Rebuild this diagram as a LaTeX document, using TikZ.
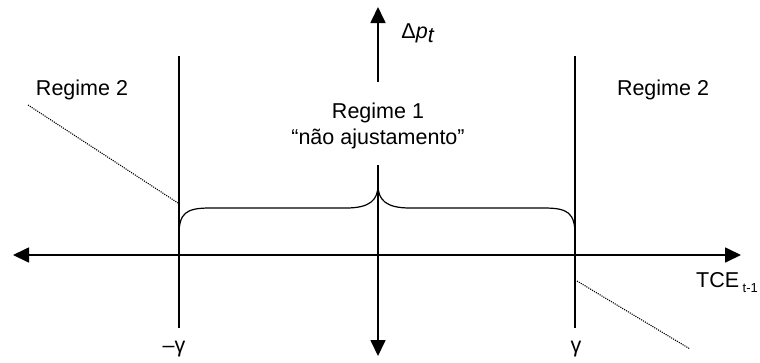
\documentclass[tikz,border=0pt]{standalone}
\usepackage{fontspec}
\setmainfont{Liberation Sans}
\usetikzlibrary{arrows.meta}

\begin{document}
\begin{tikzpicture}[x=1pt, y=-1pt,
        axis/.style={line width=1.7pt, -{Triangle[length=16pt,width=15pt]}},
        limit/.style={line width=1.2pt},
        regime/.style={dash pattern=on 1.1pt off 1.1pt, line width=1.1pt},
        lbl/.style={font=\fontsize{21.5}{25}\selectfont, inner sep=0pt, anchor=base}]

        \useasboundingbox (0,0) rectangle (760,362);

        % --- Eixos ---
        \coordinate (xl) at (13,255);
        \coordinate (xr) at (741,255);
        \coordinate (yt) at (378,7);
        \coordinate (ytb) at (378,82);
        \coordinate (yb) at (378,356);
        \coordinate (ybt) at (378,165);
        \draw[axis, {Triangle[length=16pt,width=15pt]}-{Triangle[length=16pt,width=15pt]}] (xl) -- (xr);
        \draw[axis] (ytb) -- (yt);
        \draw[axis] (ybt) -- (yb);

        % --- Limiares ---
        \coordinate (gLt) at (179,56);
        \coordinate (gLb) at (179,328);
        \coordinate (gRt) at (575,56);
        \coordinate (gRb) at (575,328);
        \draw[limit] (gLt) -- (gLb);
        \draw[limit] (gRt) -- (gRb);

        % --- Chave do regime 1 ---
        \draw[limit]
            (179,235) .. controls (179,213) and (186,208) .. (210,208)
            -- (346,208) .. controls (370,208) and (378,200) .. (378,185)
            .. controls (378,200) and (386,208) .. (410,208)
            -- (544,208) .. controls (568,208) and (575,213) .. (575,235);

        % --- Regime 2 (pontilhado) ---
        \coordinate (dLa) at (28,105);
        \coordinate (dLb) at (178,203);
        \coordinate (dRa) at (577,281);
        \coordinate (dRb) at (690,349);
        \draw[regime] (dLa) -- (dLb);
        \draw[regime] (dRa) -- (dRb);

        % --- Rotulos ---
        \node[lbl] (regtwoL) at (82,95) {Regime 2};
        \node[lbl] (regtwoR) at (663,95) {Regime 2};
        \node[lbl] (regone) at (378,118) {Regime 1};
        \node[lbl] (naoaj) at (378,144) {“não ajustamento”};
        \node[lbl] (dp) at (418,38) {Δ\textit{p}\raisebox{-0.4ex}{\textit{t}}};
        \node[lbl] (tce) at (727,287) {TCE\,\raisebox{-0.5ex}{\fontsize{13}{15}\selectfont t-1}};
        \node[lbl] (gamL) at (174,352) {–γ};
        \node[lbl] (gamR) at (576,352) {γ};

    \end{tikzpicture}
\end{document}
